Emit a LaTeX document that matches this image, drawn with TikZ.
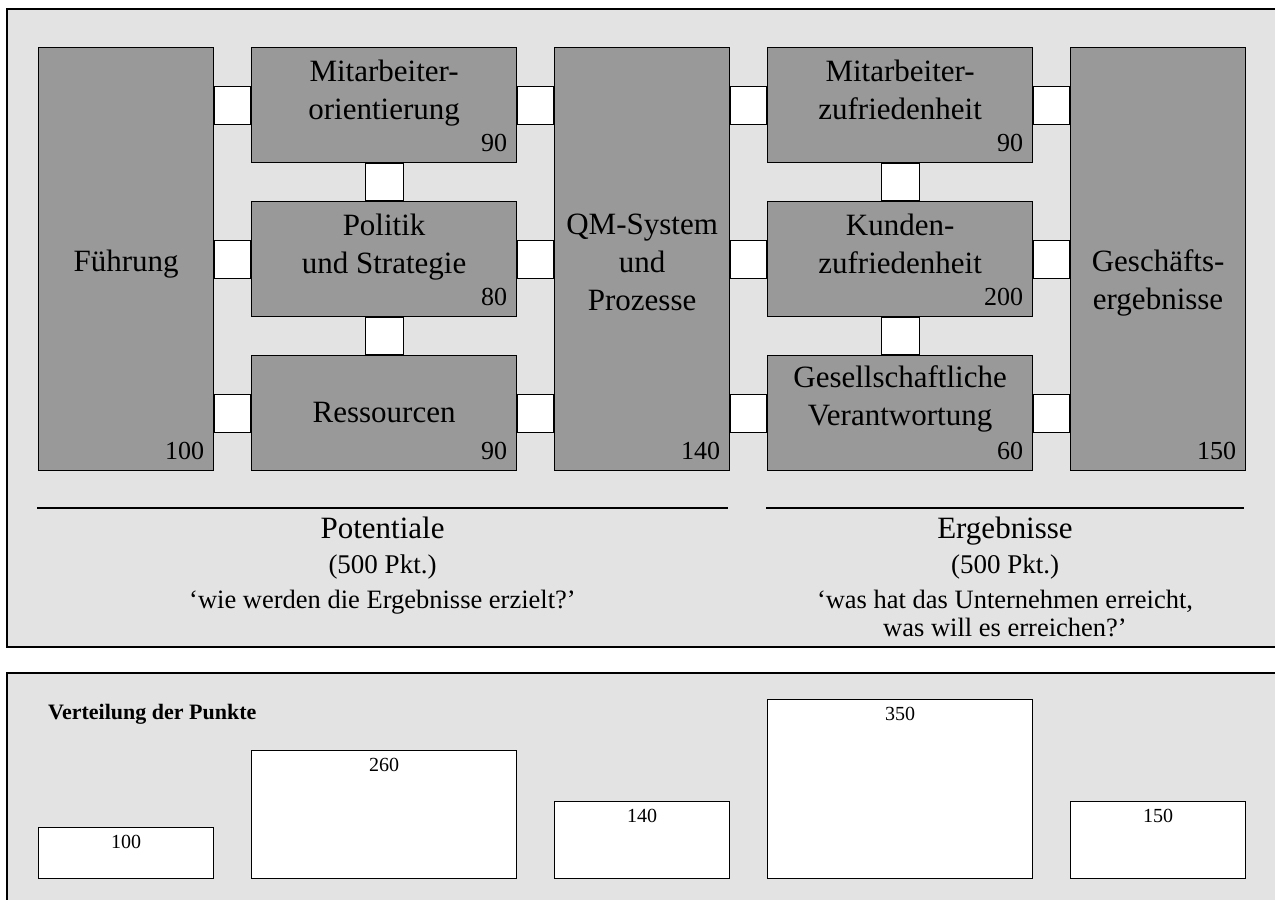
\documentclass[tikz,border=0pt]{standalone}
\usepackage{fontspec}
\setmainfont{Liberation Serif}
\usetikzlibrary{positioning}
\definecolor{panel grey}{gray}{0.89}
\definecolor{box grey}{gray}{0.6}

\begin{document}
\begin{tikzpicture}[x=1pt, y=-1pt,
		panel/.style={draw, fill=panel grey, line width=1.2pt},
		crit/.style 2 args={draw, fill=box grey, line width=1.2pt, inner sep=0pt,
			anchor=north west, minimum width=#1, minimum height=#2},
		bar/.style 2 args={draw, fill=white, line width=1.2pt, inner sep=0pt,
			anchor=north west, minimum width=#1, minimum height=#2},
		link/.style={draw, fill=white, line width=1.2pt},
		title/.style={inner sep=0pt, align=center, anchor=north, font=\fontsize{31}{38}\selectfont},
		pts/.style={inner sep=0pt, anchor=base east, font=\fontsize{26}{30}\selectfont},
		barpts/.style={inner sep=0pt, anchor=base, font=\fontsize{20}{24}\selectfont}]
		\useasboundingbox (0,0) rectangle (1275,900);
		\clip (0,0) rectangle (1275,900);
		% the two panels
		\draw[panel] (7,9) rectangle (1290,647);
		\draw[panel] (7,673) rectangle (1290,910);
		% part for Potentiale
		\node[crit={175pt}{423pt}] (fuehr) at (38,47) {};
		\node[crit={265pt}{115pt}] (mao) at (251,47) {};
		\node[crit={265pt}{115pt}] (pol) at (251,201) {};
		\node[crit={265pt}{115pt}] (res) at (251,355) {};
		\node[crit={175pt}{423pt}] (qm) at (554,47) {};
		% part for Ergebnisse
		\node[crit={265pt}{115pt}] (maz) at (767,47) {};
		\node[crit={265pt}{115pt}] (kun) at (767,201) {};
		\node[crit={265pt}{115pt}] (ges) at (767,355) {};
		\node[crit={175pt}{423pt}] (erg) at (1070,47) {};
		% links between the boxes
		\foreach \l/\r/\row in {fuehr/mao/mao, fuehr/pol/pol, fuehr/res/res,
				mao/qm/mao, pol/qm/pol, res/qm/res, qm/maz/maz, qm/kun/kun, qm/ges/ges,
				maz/erg/maz, kun/erg/kun, ges/erg/ges}
			\draw[link] ([yshift=19pt]\l.east |- \row.center) rectangle ([yshift=-19pt]\r.west |- \row.center);
		\foreach \u/\d in {mao/pol, pol/res, maz/kun, kun/ges}
			\draw[link] ([xshift=-19pt]\u.south) rectangle ([xshift=19pt]\d.north);
		% titles
		\node[title, below=203pt of fuehr.north] (t-fuehr) {Führung};
		\node[title, below=13pt of mao.north] (t-mao) {Mitarbeiter-\\orientierung};
		\node[title, below=13pt of pol.north] (t-pol) {Politik\\und Strategie};
		\node[title, below=47pt of res.north] (t-res) {Ressourcen};
		\node[title, below=167pt of qm.north] (t-qm) {QM-System\\und\\Prozesse};
		\node[title, below=13pt of maz.north] (t-maz) {Mitarbeiter-\\zufriedenheit};
		\node[title, below=13pt of kun.north] (t-kun) {Kunden-\\zufriedenheit};
		\node[title, below=10pt of ges.north] (t-ges) {Gesellschaftliche\\Verantwortung};
		\node[title, below=202pt of erg.north] (t-erg) {Geschäfts-\\ergebnisse};
		% points
		\foreach \b/\p in {fuehr/100, mao/90, pol/80, res/90, qm/140, maz/90, kun/200, ges/60, erg/150}
			\node[pts] (p-\b) at ([xshift=-10pt, yshift=12pt]\b.south east) {\p};
		% outline below
		\draw[line width=1.2pt] (37,508) -- (728,508)
			(766,508) -- (1244,508);
		\node[anchor=base, font=\fontsize{31}{36}\selectfont] (pot) at (382.5,538) {Potentiale};
		\node[anchor=base, font=\fontsize{27}{32}\selectfont] (pot-pkt) at (382.5,573) {(500 Pkt.)};
		\node[anchor=base, font=\fontsize{26.5}{28}\selectfont] (pot-q) at (382.5,608) {‘wie werden die Ergebnisse erzielt?’};
		\node[anchor=base, font=\fontsize{31}{36}\selectfont] (res-t) at (1005,538) {Ergebnisse};
		\node[anchor=base, font=\fontsize{27}{32}\selectfont] (res-pkt) at (1005,573) {(500 Pkt.)};
		\node[anchor=north, align=center, inner sep=0pt, font=\fontsize{26.5}{28}\selectfont] (res-q) at (1005,590)
			{‘was hat das Unternehmen erreicht,\\was will es erreichen?’};
		% distribution of the points
		\node[anchor=base west, inner sep=0pt, font=\fontsize{22}{26}\selectfont\bfseries] (dist) at (48,719) {Verteilung der Punkte};
		\node[bar={175pt}{51pt}] (b-pot1) at (38,827) {};
		\node[bar={265pt}{128pt}] (b-pot2) at (251,750) {};
		\node[bar={175pt}{77pt}] (b-qm) at (554,801) {};
		\node[bar={265pt}{179pt}] (b-res) at (767,699) {};
		\node[bar={175pt}{77pt}] (b-erg) at (1070,801) {};
		\foreach \b/\p in {b-pot1/100, b-pot2/260, b-qm/140, b-res/350, b-erg/150}
			\node[barpts] (n-\b) at ([yshift=-21pt]\b.north) {\p};
	\end{tikzpicture}
\end{document}
